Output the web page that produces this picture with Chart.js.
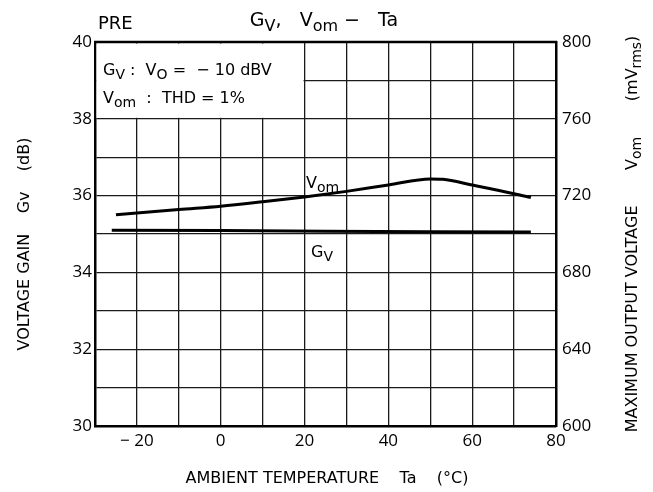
<!DOCTYPE html>
<html>
<head>
<meta charset="utf-8">
<script src="https://cdn.jsdelivr.net/npm/chart.js@4.4.0/dist/chart.umd.min.js"></script>
<style>
  html, body { margin: 0; padding: 0; background: #fff; }
</style>
</head>
<body>
<canvas id="chart" width="653" height="492"></canvas>
<script>
const FONT = "'DejaVu Sans', sans-serif";
const TICK_FONT = "'Open Sans', sans-serif";

// Vom (right axis, mVrms) against ambient temperature
const tempVom = [-25, -10, 0, 10, 20, 30, 40, 50, 53, 60, 70, 74];
const vomValues = [710, 712.8, 714.5, 716.8, 719.3, 722.2, 725.5, 728.7, 728.5, 725.5, 721, 719];

// Gv (left axis, dB)
const tempGv = [-26, 0, 25, 50, 74];
const gvValues = [35.1, 35.09, 35.07, 35.06, 35.05];

// labelled ticks
const tempTicks = [-20, 0, 20, 40, 60, 80];
const gainTicks = [30, 32, 34, 36, 38, 40];
const vomTicks = [600, 640, 680, 720, 760, 800];

// text with subscripts: parts = [[text, isSub], ...]
function drawRich(ctx, parts, x, y, size, align) {
  const subSize = Math.round(size * 0.85);
  let total = 0;
  parts.forEach(([t, sub]) => {
    ctx.font = (sub ? subSize : size) + "px " + FONT;
    total += ctx.measureText(t).width;
  });
  let cx = align === "center" ? x - total / 2 : x;
  ctx.textAlign = "left";
  ctx.textBaseline = "alphabetic";
  parts.forEach(([t, sub]) => {
    ctx.font = (sub ? subSize : size) + "px " + FONT;
    ctx.fillText(t, cx, sub ? y + size * 0.28 : y);
    cx += ctx.measureText(t).width;
  });
}

const decorPlugin = {
  id: "decor",
  beforeDatasetsDraw(chart) {
    const { ctx, chartArea, scales } = chart;
    const x20 = scales.x.getPixelForValue(20);
    const y38 = scales.y.getPixelForValue(38);
    ctx.save();
    // condition box in the upper left cells
    ctx.fillStyle = "#fff";
    ctx.fillRect(chartArea.left + 1.5, chartArea.top + 1.5, x20 - chartArea.left - 2.5, y38 - chartArea.top - 2.5);
    ctx.fillStyle = "#000";
    drawRich(ctx, [["G", 0], ["V", 1], [" :  V", 0], ["O", 1], [" =  − 10 dBV", 0]], 103, 75, 16, "left");
    drawRich(ctx, [["V", 0], ["om", 1], ["  :  THD = 1%", 0]], 103, 103, 16, "left");
    ctx.restore();
  },
  afterDraw(chart) {
    const { ctx, chartArea } = chart;
    ctx.save();
    ctx.strokeStyle = "#000";
    ctx.lineWidth = 2.5;
    ctx.beginPath();
    ctx.moveTo(chartArea.left - 1, chartArea.top);
    ctx.lineTo(chartArea.right + 1, chartArea.top);
    ctx.stroke();

    ctx.fillStyle = "#000";
    ctx.textAlign = "left";
    ctx.textBaseline = "alphabetic";
    ctx.font = "18px " + FONT;
    ctx.fillText("PRE", 98, 29);
    drawRich(ctx, [["G", 0], ["V", 1], [",   V", 0], ["om", 1], [" −   Ta", 0]], 324, 26, 19, "center");

    // curve labels
    drawRich(ctx, [["V", 0], ["om", 1]], 306, 188, 16, "left");
    drawRich(ctx, [["G", 0], ["V", 1]], 311, 257, 16, "left");

    // x axis title
    ctx.font = "16px " + FONT;
    ctx.textAlign = "center";
    ctx.fillText("AMBIENT TEMPERATURE    Ta    (°C)", 327, 483);

    // left axis title
    ctx.save();
    ctx.translate(29, 244);
    ctx.rotate(-Math.PI / 2);
    ctx.font = "16px " + FONT;
    ctx.textAlign = "center";
    ctx.fillText("VOLTAGE GAIN    Gv    (dB)", 0, 0);
    ctx.restore();

    // right axis title
    ctx.save();
    ctx.translate(637, 234);
    ctx.rotate(-Math.PI / 2);
    drawRich(ctx, [["MAXIMUM OUTPUT VOLTAGE       V", 0], ["om", 1], ["       (mV", 0], ["rms", 1], [")", 0]], 0, 0, 16, "center");
    ctx.restore();
    ctx.restore();
  },
};

const gridColor = "#1a1a1a";
const tickFont = { family: TICK_FONT, size: 17 };

new Chart(document.getElementById("chart"), {
  type: "line",
  data: {
    datasets: [
      {
        label: "Vom",
        data: tempVom.map((t, i) => ({ x: t, y: vomValues[i] })),
        yAxisID: "y2",
        borderColor: "#000",
        borderWidth: 3,
        pointRadius: 0,
        cubicInterpolationMode: "monotone",
      },
      {
        label: "Gv",
        data: tempGv.map((t, i) => ({ x: t, y: gvValues[i] })),
        yAxisID: "y",
        borderColor: "#000",
        borderWidth: 3,
        pointRadius: 0,
      },
    ],
  },
  options: {
    responsive: false,
    animation: false,
    layout: { padding: { top: 42, left: 0, right: 0, bottom: 0 } },
    plugins: {
      legend: { display: false },
      tooltip: { enabled: false },
    },
    scales: {
      x: {
        type: "linear",
        min: -30,
        max: 80,
        ticks: {
          stepSize: 10,
          autoSkip: false,
          maxRotation: 0,
          color: "#000",
          font: tickFont,
          padding: 5,
          callback: (v) => (tempTicks.includes(v) ? (v < 0 ? "− " + Math.abs(v) : String(v)) : ""),
        },
        grid: { color: gridColor, lineWidth: 1.3, drawTicks: false },
        border: { color: "#000", width: 2.5 },
        afterFit: (s) => { s.height = 66; },
      },
      y: {
        position: "left",
        min: 30,
        max: 40,
        ticks: {
          stepSize: 1,
          autoSkip: false,
          color: "#000",
          font: tickFont,
          padding: 3,
          callback: (v) => (gainTicks.includes(v) ? String(v) : ""),
        },
        grid: { color: gridColor, lineWidth: 1.3, drawTicks: false },
        border: { color: "#000", width: 2.5 },
        afterFit: (s) => { s.width = 95; },
      },
      y2: {
        position: "right",
        min: 600,
        max: 800,
        ticks: {
          stepSize: 20,
          autoSkip: false,
          color: "#000",
          font: tickFont,
          padding: 6,
          callback: (v) => (vomTicks.includes(v) ? String(v) : ""),
        },
        grid: { drawOnChartArea: false, drawTicks: false },
        border: { color: "#000", width: 2.5 },
        afterFit: (s) => { s.width = 97; },
      },
    },
  },
  plugins: [decorPlugin],
});
</script>
</body>
</html>
